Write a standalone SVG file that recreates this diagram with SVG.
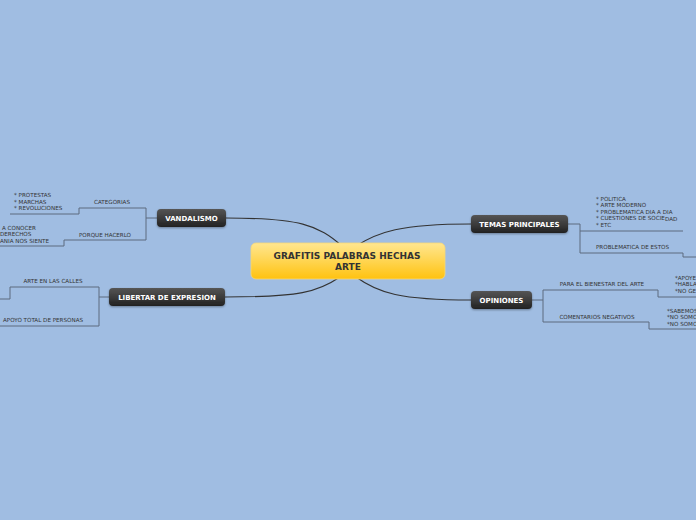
<svg xmlns="http://www.w3.org/2000/svg" width="696" height="520" viewBox="0 0 696 520">
<defs>
<linearGradient id="gY" x1="0" y1="0" x2="0" y2="1">
<stop offset="0" stop-color="#ffe690"/>
<stop offset="0.55" stop-color="#ffd34a"/>
<stop offset="1" stop-color="#ffc20f"/>
</linearGradient>
<linearGradient id="gD" x1="0" y1="0" x2="0" y2="1">
<stop offset="0" stop-color="#555555"/>
<stop offset="1" stop-color="#222222"/>
</linearGradient>
<filter id="sh" x="-20%" y="-30%" width="140%" height="170%">
<feDropShadow dx="0" dy="1" stdDeviation="0.8" flood-color="#000" flood-opacity="0.35"/>
</filter>
</defs>
<style>
.main{fill:none;stroke:#333;stroke-width:1.1}
.sub{fill:none;stroke:#5d6b7f;stroke-width:1}
.nd{fill:url(#gD);filter:url(#sh)}
.nt{font-family:"DejaVu Sans",Verdana,sans-serif;font-weight:bold;font-size:7px;fill:#fff;text-anchor:middle}
.ct{font-family:"DejaVu Sans",Verdana,sans-serif;font-weight:bold;font-size:9px;fill:#333;text-anchor:middle}
.st{font-family:"DejaVu Sans",Verdana,sans-serif;font-size:5.6px;fill:#333}
.sm{text-anchor:middle}
</style>
<rect width="696" height="520" fill="#a0bde2"/>
<g id="connectors">
<path class="main" d="M226 218 C300 218 318 225 342 246"/>
<path class="main" d="M225 297 C300 297 318 292 340 277"/>
<path class="main" d="M471 224 C400 224 378 232 356 246"/>
<path class="main" d="M471 300 C400 300 378 293 356 277"/>
<path class="sub" d="M157 218 H146 M146 208 V240 M146 208 H79 V214 H10 M146 240 H64 V246 H0"/>
<path class="sub" d="M109 297 H99 M99 287 V326 M99 287 H10 V299 H0 M99 326 H0"/>
<path class="sub" d="M568 224 H580 V253 M580 231 H683 M580 253 H683 V257 H696"/>
<path class="sub" d="M532 300 H543 M543 290 V322 M543 290 H658 V297 H696 M543 322 H649 V329 H696"/>
</g>
<g id="center">
<rect x="251" y="243" width="194" height="36" rx="5" fill="url(#gY)" stroke="#f5d77a" stroke-width="0.8"/>
<text class="ct" x="347" y="259">GRAFITIS PALABRAS HECHAS</text>
<text class="ct" x="348" y="270">ARTE</text>
</g>
<g id="vandalismo">
<rect class="nd" x="157" y="209" width="69" height="18" rx="4"/>
<text class="nt" x="191.5" y="221">VANDALISMO</text>
</g>
<g id="libertar">
<rect class="nd" x="109" y="288" width="116" height="18" rx="4"/>
<text class="nt" x="167" y="300">LIBERTAR DE EXPRESION</text>
</g>
<g id="temas">
<rect class="nd" x="471" y="215" width="97" height="18" rx="4"/>
<text class="nt" x="519.5" y="227">TEMAS PRINCIPALES</text>
</g>
<g id="opiniones">
<rect class="nd" x="471" y="291" width="61" height="18" rx="4"/>
<text class="nt" x="501.5" y="303">OPINIONES</text>
</g>
<g id="categorias">
<text class="st sm" x="112" y="204">CATEGORIAS</text>
<text class="st" x="14" y="197">* PROTESTAS</text>
<text class="st" x="14" y="204">* MARCHAS</text>
<text class="st" x="14" y="210">* REVOLUCIONES</text>
</g>
<g id="porque">
<text class="st sm" x="105" y="237">PORQUE HACERLO</text>
<text class="st" x="2" y="230">A CONOCER</text>
<text class="st" x="0" y="236">DERECHOS</text>
<text class="st" x="0" y="243">ANIA NOS SIENTE</text>
</g>
<g id="arte-calles">
<text class="st sm" x="53" y="283">ARTE EN LAS CALLES</text>
</g>
<g id="apoyo">
<text class="st sm" x="43" y="322">APOYO TOTAL DE PERSONAS</text>
</g>
<g id="temas-lista">
<text class="st" x="596" y="201">* POLITICA</text>
<text class="st" x="596" y="207">* ARTE MODERNO</text>
<text class="st" x="596" y="214">* PROBLEMATICA DIA A DIA</text>
<text class="st" x="596" y="220">* CUESTIONES DE SOCIE</text>
<text class="st" x="665" y="221">DAD</text>
<text class="st" x="596" y="227">* ETC</text>
</g>
<g id="problematica">
<text class="st" x="596" y="249">PROBLEMATICA DE ESTOS</text>
</g>
<g id="bienestar">
<text class="st sm" x="602" y="286">PARA EL BIENESTAR DEL ARTE</text>
<text class="st" x="675" y="280">*APOYE</text>
<text class="st" x="675" y="286">*HABLA</text>
<text class="st" x="675" y="293">*NO GE</text>
</g>
<g id="negativos">
<text class="st sm" x="597" y="319">COMENTARIOS NEGATIVOS</text>
<text class="st" x="667" y="313">*SABEMOS</text>
<text class="st" x="667" y="319">*NO SOMO</text>
<text class="st" x="667" y="326">*NO SOMO</text>
</g>
</svg>
